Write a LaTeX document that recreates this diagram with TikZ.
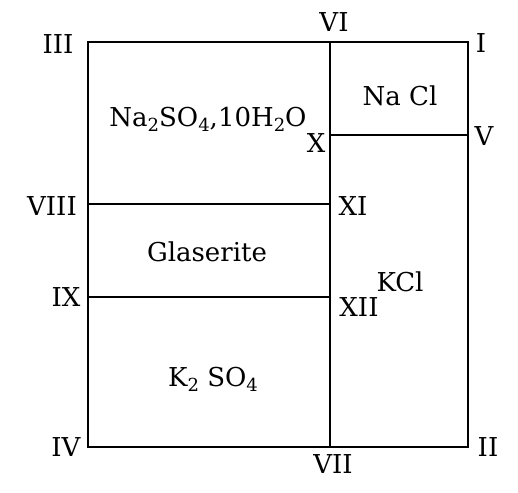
\documentclass[tikz,border=0pt]{standalone}
\usepackage{fontspec}
\setmainfont{DejaVu Serif}
\usepackage{tikz}
\usetikzlibrary{positioning}

\newcommand{\low}[1]{\raisebox{-0.35ex}{\fontsize{18}{18}\selectfont #1}}

\begin{document}
\begin{tikzpicture}[x=1pt,y=-1pt,line width=2pt,
	num node/.style={inner sep=0pt,font=\fontsize{26}{30}\selectfont},
	phase node/.style={inner sep=0pt,font=\fontsize{26}{30}\selectfont}]
	
	\useasboundingbox (0,0) rectangle (518,492);
	
	% corners and ends of the boundaries
	\coordinate (tl) at (88,42);
	\coordinate (tm) at (330,42);
	\coordinate (tr) at (468,42);
	\coordinate (x) at (330,135);
	\coordinate (v) at (468,135);
	\coordinate (viii) at (88,204);
	\coordinate (xi) at (330,204);
	\coordinate (ix) at (88,297);
	\coordinate (xii) at (330,297);
	\coordinate (bl) at (88,447);
	\coordinate (bm) at (330,447);
	\coordinate (br) at (468,447);
	
	\draw (tl) -- (tr) -- (br) -- (bl) -- cycle;
	\draw (tm) -- (bm);
	\draw (x) -- (v);
	\draw (viii) -- (xi);
	\draw (ix) -- (xii);
	
	% numerals
	\node[num node] (n3) at (58,44) {III};
	\node[num node] (n6) at (334,22) {VI};
	\node[num node] (n1) at (481,43) {I};
	\node[num node] (n5) at (484,136) {V};
	\node[num node] (n10) at (316,143) {X};
	\node[num node] (n8) at (52,206) {VIII};
	\node[num node] (n11) at (353,206) {XI};
	\node[num node] (n9) at (66,297) {IX};
	\node[num node] (n12) at (359,307) {XII};
	\node[num node] (n4) at (66,447) {IV};
	\node[num node] (n7) at (333,464) {VII};
	\node[num node] (n2) at (488,447) {II};
	
	% fields
	\node[phase node] (sulf) at (208,119) {Na\low{2}SO\low{4},10H\low{2}O};
	\node[phase node] (nacl) at (400,96) {Na Cl};
	\node[phase node] (glas) at (207,252) {Glaserite};
	\node[phase node] (kcl) at (400,282) {KCl};
	\node[phase node] (ksulf) at (213,379) {K\low{2} SO\low{4}};
\end{tikzpicture}
\end{document}
